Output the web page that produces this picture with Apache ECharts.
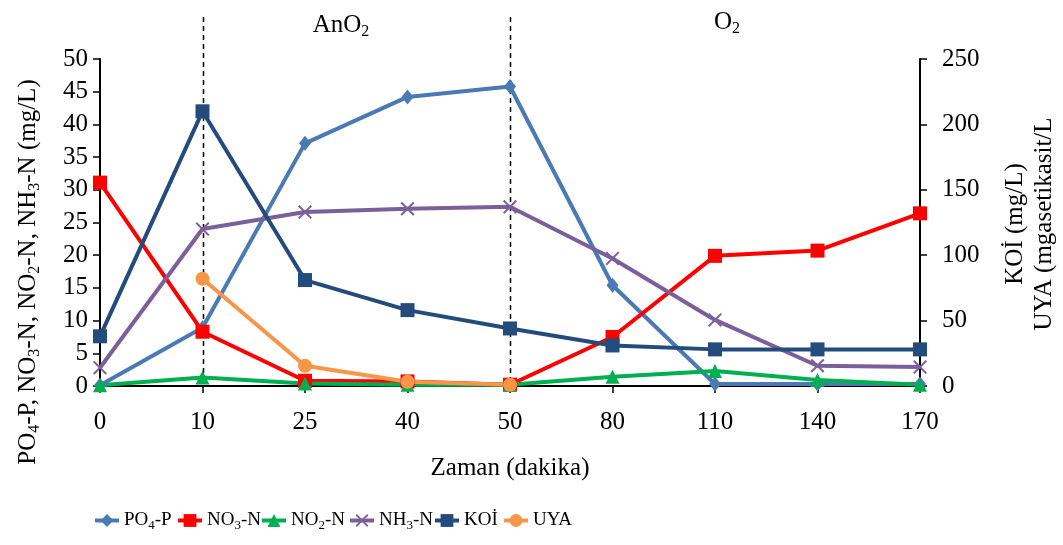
<!DOCTYPE html>
<html>
<head>
<meta charset="utf-8">
<style>
  html, body { margin: 0; padding: 0; background: #fff; }
  #chart { width: 1063px; height: 545px; }
</style>
<script src="https://cdn.jsdelivr.net/npm/echarts@6/dist/echarts.min.js"></script>
</head>
<body>
<div id="chart"></div>
<script>
// Sampling times (minutes)
const times = ['0', '10', '25', '40', '50', '80', '110', '140', '170'];

// Concentrations, mg/L (left axis)
const po4P = [0.1, 8.9, 37.1, 44.2, 45.8, 15.4, 0.3, 0.3, 0.3];
const no3N = [31.1, 8.3, 0.8, 0.7, 0.2, 7.5, 19.9, 20.7, 26.4];
const no2N = [0.1, 1.3, 0.4, 0.2, 0.2, 1.4, 2.3, 0.9, 0.2];
const nh3N = [2.8, 24.0, 26.6, 27.1, 27.4, 19.5, 10.1, 3.1, 2.9];

// KOİ (mg/L) and UYA (mg asetikasit/L) on the right axis
const koi = [38, 210, 81, 58, 44, 31, 28, 28, 28];
const uya = [null, 82, 15.5, 3.3, 1, null, null, null, null];

// Phase boundaries on the time axis
const phaseMarks = ['10', '50'];

const leftTicks = { min: 0, max: 50, interval: 5 };
const rightTicks = { min: 0, max: 250, interval: 50 };

const FONT = '"Liberation Serif", "Times New Roman", serif';
const AXIS_FONT = 25;

const richLegend = {
  n: { fontFamily: FONT, fontSize: 19, color: '#000', lineHeight: 24 },
  s: { fontFamily: FONT, fontSize: 13, color: '#000', lineHeight: 13, verticalAlign: 'bottom' }
};

const richNames = {
  'PO4-P': '{n|PO}{s|4}{n|-P}',
  'NO3-N': '{n|NO}{s|3}{n|-N}',
  'NO2-N': '{n|NO}{s|2}{n|-N}',
  'NH3-N': '{n|NH}{s|3}{n|-N}',
  'KOİ': '{n|KOİ}',
  'UYA': '{n|UYA}'
};

const xShape = 'path://M0,1L1,0L5,4L9,0L10,1L6,5L10,9L9,10L5,6L1,10L0,9L4,5Z';

function lineSeries(name, data, color, symbol, size, yIdx) {
  return {
    name: name,
    type: 'line',
    yAxisIndex: yIdx,
    data: data,
    symbol: symbol,
    symbolSize: size,
    showAllSymbol: true,
    connectNulls: false,
    lineStyle: { color: color, width: 4 },
    itemStyle: { color: color },
    emphasis: { disabled: true },
    animation: false
  };
}

const legendSlots = [
  ['PO4-P', 93], ['NO3-N', 176], ['NO2-N', 260],
  ['NH3-N', 348], ['KOİ', 433], ['UYA', 502]
];

const chart = echarts.init(document.getElementById('chart'));

chart.setOption({
  animation: false,
  backgroundColor: '#fff',
  grid: { left: 100, right: 143, top: 59, bottom: 159 },
  legend: legendSlots.map(function (s) {
    return {
      data: [s[0]],
      left: s[1],
      top: 511,
      itemWidth: 24,
      itemHeight: 16,
      padding: 0,
      lineStyle: { width: 4 },
      formatter: function (n) { return richNames[n]; },
      textStyle: { rich: richLegend }
    };
  }),
  xAxis: [{
    type: 'category',
    data: times,
    boundaryGap: false,
    axisLine: { lineStyle: { color: '#000', width: 2 } },
    axisTick: { show: true, alignWithLabel: true, length: 7, lineStyle: { color: '#000', width: 1.5 } },
    axisLabel: { color: '#000', fontFamily: FONT, fontSize: AXIS_FONT, margin: 24 },
    name: 'Zaman (dakika)',
    nameLocation: 'middle',
    nameGap: 70,
    nameTextStyle: { color: '#000', fontFamily: FONT, fontSize: AXIS_FONT }
  }, {
    type: 'category',
    data: times,
    position: 'top',
    boundaryGap: false,
    axisLine: { lineStyle: { color: '#000', width: 2 } },
    axisTick: { show: false },
    axisLabel: { show: false }
  }],
  yAxis: [{
    type: 'value',
    min: leftTicks.min, max: leftTicks.max, interval: leftTicks.interval,
    position: 'left',
    splitLine: { show: false },
    axisLine: { show: true, lineStyle: { color: '#000', width: 2 } },
    axisTick: { show: true, length: 7, lineStyle: { color: '#000', width: 1.5 } },
    axisLabel: { color: '#000', fontFamily: FONT, fontSize: AXIS_FONT, margin: 12 }
  }, {
    type: 'value',
    min: rightTicks.min, max: rightTicks.max, interval: rightTicks.interval,
    position: 'right',
    splitLine: { show: false },
    axisLine: { show: true, lineStyle: { color: '#000', width: 2 } },
    axisTick: { show: true, length: 7, lineStyle: { color: '#000', width: 1.5 } },
    axisLabel: { color: '#000', fontFamily: FONT, fontSize: AXIS_FONT, margin: 22 }
  }],
  series: [
    lineSeries('PO4-P', po4P, '#4a7ab3', 'diamond', [12, 15], 0),
    lineSeries('NO3-N', no3N, '#ff0000', 'rect', 14, 0),
    lineSeries('NO2-N', no2N, '#00b050', 'triangle', 14, 0),
    lineSeries('NH3-N', nh3N, '#7b5f9b', xShape, 14, 0),
    lineSeries('KOİ', koi, '#234b7c', 'rect', 14, 1),
    lineSeries('UYA', uya, '#f79646', 'circle', 14, 1)
  ]
});

// Phase boundary lines, axis titles and phase labels
const yBottom = chart.convertToPixel({ yAxisIndex: 0 }, 0);
const graphics = phaseMarks.map(function (t) {
  const x = Math.round(chart.convertToPixel({ xAxisIndex: 0 }, t)) + 0.5;
  return {
    type: 'line',
    silent: true,
    z: 1,
    shape: { x1: x, y1: 17, x2: x, y2: yBottom },
    style: { stroke: '#000', lineWidth: 1.5, lineDash: [5, 4] }
  };
});

const richTitle = {
  n: { fontFamily: FONT, fontSize: AXIS_FONT, fill: '#000', lineHeight: 30 },
  s: { fontFamily: FONT, fontSize: 16, fill: '#000', lineHeight: 16, verticalAlign: 'bottom' }
};

graphics.push({
  type: 'text',
  x: 28, y: 272,
  rotation: Math.PI / 2,
  style: {
    text: '{n|PO}{s|4}{n|-P, NO}{s|3}{n|-N, NO}{s|2}{n|-N, NH}{s|3}{n|-N (mg/L)}',
    rich: richTitle,
    align: 'center', verticalAlign: 'middle'
  }
});
graphics.push({
  type: 'text',
  x: 1015, y: 224,
  rotation: Math.PI / 2,
  style: { text: 'KOİ (mg/L)', font: AXIS_FONT + 'px ' + FONT, fill: '#000', align: 'center', verticalAlign: 'middle' }
});
graphics.push({
  type: 'text',
  x: 1044, y: 224,
  rotation: Math.PI / 2,
  style: { text: 'UYA (mgasetikasit/L', font: AXIS_FONT + 'px ' + FONT, fill: '#000', align: 'center', verticalAlign: 'middle' }
});
graphics.push({
  type: 'text',
  x: 341, y: 25,
  style: { text: '{n|AnO}{s|2}', rich: richTitle, align: 'center', verticalAlign: 'middle' }
});
graphics.push({
  type: 'text',
  x: 727, y: 22,
  style: { text: '{n|O}{s|2}', rich: richTitle, align: 'center', verticalAlign: 'middle' }
});

chart.setOption({ graphic: graphics });
</script>
</body>
</html>
